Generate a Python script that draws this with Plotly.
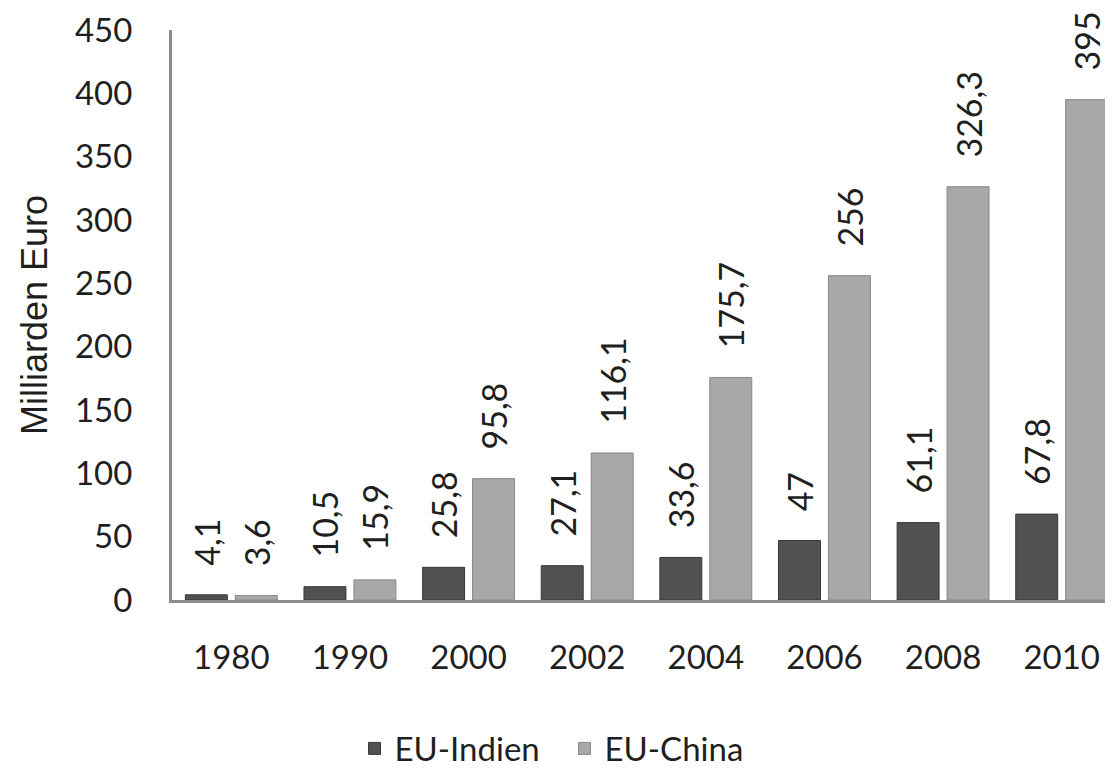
import plotly.graph_objects as go

years = ["1980", "1990", "2000", "2002", "2004", "2006", "2008", "2010"]
eu_indien = [4.1, 10.5, 25.8, 27.1, 33.6, 47, 61.1, 67.8]
eu_china = [3.6, 15.9, 95.8, 116.1, 175.7, 256, 326.3, 395]
indien_labels = ["4,1", "10,5", "25,8", "27,1", "33,6", "47", "61,1", "67,8"]
china_labels = ["3,6", "15,9", "95,8", "116,1", "175,7", "256", "326,3", "395"]
y_ticks = [0, 50, 100, 150, 200, 250, 300, 350, 400, 450]

FONT = "Lato"
FS = 34
PAD = "\u00a0\u00a0\u00a0"

fig = go.Figure()
fig.add_trace(go.Bar(
    x=years, y=eu_indien, name="EU-Indien",
    marker=dict(color="#515151", line=dict(color="#383838", width=1)),
    text=[PAD + t for t in indien_labels], textposition="outside", textangle=-90,
    textfont=dict(family=FONT, size=FS, color="#1f1f1f"),
    cliponaxis=False,
))
fig.add_trace(go.Bar(
    x=years, y=eu_china, name="EU-China",
    marker=dict(color="#a8a8a8", line=dict(color="#888888", width=1)),
    text=[PAD + t for t in china_labels], textposition="outside", textangle=-90,
    textfont=dict(family=FONT, size=FS, color="#1f1f1f"),
    cliponaxis=False,
))

fig.update_layout(
    width=1113, height=761,
    paper_bgcolor="white", plot_bgcolor="white",
    margin=dict(l=164, r=0, t=22, b=169, autoexpand=False),
    barmode="group", bargap=0.158, bargroupgap=0.16,
    font=dict(family=FONT, size=33, color="#1f1f1f"),
    uniformtext=dict(minsize=FS, mode="show"),
    showlegend=True,
    legend=dict(orientation="h", xref="container", x=0.5, xanchor="center",
                yref="container", y=0.027, yanchor="middle",
                font=dict(family=FONT, size=33), itemwidth=30,
                entrywidth=165, entrywidthmode="pixels"),
)
fig.update_yaxes(
    range=[0, 450], tickvals=y_ticks, showgrid=False, zeroline=False,
    showline=True, linecolor="#8c8c8c", linewidth=3, automargin=False,
    ticks="", ticklabelstandoff=30,
    title=dict(text="Milliarden Euro",
               font=dict(family="Liberation Sans", size=36, color="#1f1f1f"),
               standoff=17),
)
fig.update_xaxes(
    showgrid=False, showline=True, linecolor="#8c8c8c", linewidth=3,
    automargin=False, ticks="", ticklabelstandoff=26,
)

fig.write_html("out.html")
